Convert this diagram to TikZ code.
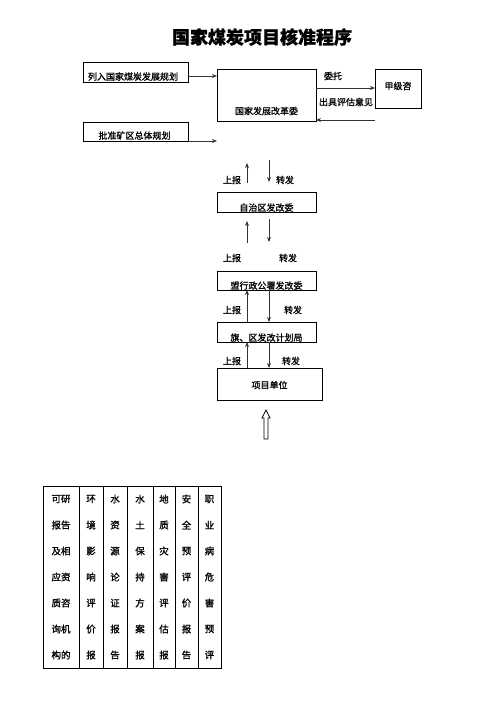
\documentclass[tikz,border=0pt]{standalone}
\usepackage{fontspec}
\setmainfont{Noto Sans CJK SC}[FakeBold=1.2]
\newfontfamily\titlefont{Noto Sans CJK SC}[FakeBold=1]
\usetikzlibrary{arrows.meta}
\begin{document}
\begin{tikzpicture}[x=1pt,y=-1pt,
  box/.style={draw=black,line width=0.9pt,inner sep=0pt},
  lbl/.style={font=\fontsize{9}{10}\selectfont,inner sep=0pt},
  arr/.style={draw=black!80,line width=0.9pt,-{Stealth[length=5pt,width=4pt]}},
  cell/.style={font=\fontsize{9.5}{10}\selectfont,inner sep=0pt}]
\useasboundingbox (0,0) rectangle (496,702);
\node[font=\titlefont\fontsize{18}{19}\bfseries\selectfont,inner sep=0pt] (title) at (262,37) {国家煤炭项目核准程序};
% left boxes
\draw[box] (83,62) rectangle (188,82);
\node[lbl,anchor=base] (b1) at (133,80) {列入国家煤炭发展规划};
\coordinate (b1e) at (188,76);
\draw[box] (83,122) rectangle (188,141);
\node[lbl,anchor=base] (b2) at (134.5,139) {批准矿区总体规划};
\coordinate (b2e) at (188,141);
% main box
\draw[box] (217,69) rectangle (316,121);
\node[lbl] (ndrc) at (266.5,111) {国家发展改革委};
\coordinate (m1) at (217,76);
\coordinate (m2) at (217,141);
\draw[arr] (b1e) -- (m1);
\draw[arr] (b2e) -- (m2);
% consult box
\draw[box] (375,69) rectangle (421,108);
\node[lbl] (jj) at (398,86) {甲级咨};
\coordinate (w1) at (316,88);
\coordinate (w2) at (375,88);
\coordinate (w3) at (375,120);
\coordinate (w4) at (316,120);
\draw[arr] (w1) -- (w2);
\draw[arr] (w3) -- (w4);
\node[lbl] (wt) at (333,76) {委托};
\node[lbl] (cj) at (346,102) {出具评估意见};
% level 2
\draw[box] (217,192) rectangle (316,212);
\node[lbl,anchor=base] (zzq) at (266.5,211) {自治区发改委};
\draw[arr] (247,183) -- (247,163);
\draw[arr] (269,160) -- (269,182);
\node[lbl] (s1) at (232,180) {上报};
\node[lbl] (z1) at (285,180) {转发};
% level 3
\draw[arr] (247,243) -- (247,221);
\draw[arr] (269,219) -- (269,242);
\node[lbl] (s2) at (232,258) {上报};
\node[lbl] (z2) at (288,258) {转发};
\draw[box] (217,271) rectangle (316,290);
\node[lbl,anchor=base] (ms) at (266.5,289) {盟行政公署发改委};
% level 4
\draw[box] (217,322) rectangle (316,342);
\node[lbl,anchor=base] (qx) at (266.5,341) {旗、区发改计划局};
\draw[arr] (247,322) -- (247,290);
\draw[arr] (269,290) -- (269,322);
\node[lbl] (s3) at (232,310) {上报};
\node[lbl] (z3) at (293,310) {转发};
% project unit
\draw[box] (217,368) rectangle (322,400);
\node[lbl] (xm) at (269.5,385) {项目单位};
\draw[arr] (247,368) -- (247,342);
\draw[arr] (269,342) -- (269,368);
\node[lbl] (s4) at (232,361) {上报};
\node[lbl] (z4) at (291,361) {转发};
% hollow arrow
\draw[line width=0.7pt,line join=miter] (264,439) -- (264,418) -- (262,418) -- (266,410) -- (270,418) -- (268,418) -- (268,439) -- cycle;
% table
\draw[box] (43,486) rectangle (221,668);
\foreach \x in {79,103,127,153,175,198} \draw[line width=0.9pt] (\x,486) -- (\x,668);
\foreach [count=\i] \t in {可研,报告,及相,应资,质咨,询机,构的} \node[cell] (c1r\i) at (61,473+26*\i) {\t};
\foreach [count=\i] \t in {环,境,影,响,评,价,报} \node[cell] (c2r\i) at (91,473+26*\i) {\t};
\foreach [count=\i] \t in {水,资,源,论,证,报,告} \node[cell] (c3r\i) at (115,473+26*\i) {\t};
\foreach [count=\i] \t in {水,土,保,持,方,案,报} \node[cell] (c4r\i) at (140,473+26*\i) {\t};
\foreach [count=\i] \t in {地,质,灾,害,评,估,报} \node[cell] (c5r\i) at (164,473+26*\i) {\t};
\foreach [count=\i] \t in {安,全,预,评,价,报,告} \node[cell] (c6r\i) at (186.5,473+26*\i) {\t};
\foreach [count=\i] \t in {职,业,病,危,害,预,评} \node[cell] (c7r\i) at (209.5,473+26*\i) {\t};
\end{tikzpicture}
\end{document}
